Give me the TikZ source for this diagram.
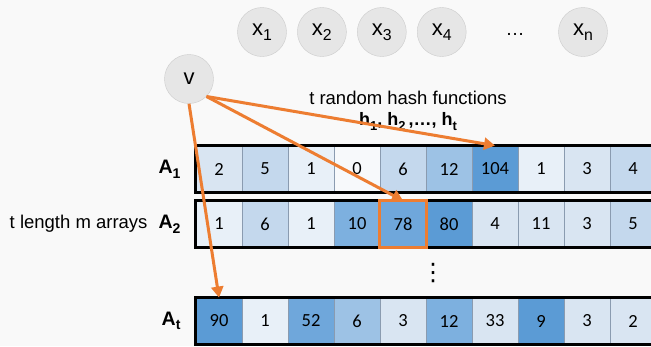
\documentclass[tikz,border=0pt]{standalone}
\usepackage{fontspec}
\setmainfont{Liberation Sans}
\newfontfamily\cellfont{Carlito}
\newfontfamily\symfont{DejaVu Sans}
\usetikzlibrary{arrows.meta,positioning}

\definecolor{bgcol}{HTML}{F9F9F9}
\definecolor{circfill}{HTML}{E6E6E6}
\definecolor{circline}{HTML}{CCCCCC}
\definecolor{cellline}{HTML}{8A9BB0}
\definecolor{hashorange}{HTML}{ED7D31}
\definecolor{cwhite}{HTML}{F7F9FB}
\definecolor{cpale}{HTML}{E8F0F8}
\definecolor{clight}{HTML}{D9E5F2}
\definecolor{csoft}{HTML}{C4D8ED}
\definecolor{cmid}{HTML}{9DC2E5}
\definecolor{cdeep}{HTML}{7DB0DF}
\definecolor{cdeeper}{HTML}{6FA7DB}
\definecolor{cdark}{HTML}{5B9BD5}

\newcommand{\lowidx}[1]{\raisebox{-0.45ex}{\scalebox{0.72}{#1}}}

\begin{document}
\begin{tikzpicture}[x=1pt, y=-1pt,
    item/.style={circle, draw=circline, fill=circfill, minimum size=49pt, inner sep=0pt, font=\fontsize{22}{22}\selectfont},
    cell/.style={draw=cellline, line width=0.8pt, minimum width=46pt, minimum height=46pt, inner sep=0pt, font=\cellfont\fontsize{18.5}{18.5}\selectfont},
    rowlabel/.style={anchor=east, font=\bfseries\fontsize{19.5}{19.5}\selectfont},
    hash/.style={draw=hashorange, line width=3pt, -{Triangle[length=11pt,width=12pt]}}]
    \useasboundingbox (0,0) rectangle (651,346);
    \fill[bgcol] (0,0) rectangle (651,346);
    \clip (0,0) rectangle (651,346);

    % elements
    \node[item] (x1) at (262,32) {x\lowidx{1}};
    \node[item, right=10.5pt of x1] (x2) {x\lowidx{2}};
    \node[item, right=10.5pt of x2] (x3) {x\lowidx{3}};
    \node[item, right=10.5pt of x3] (x4) {x\lowidx{4}};
    \node[font=\fontsize{19}{19}\selectfont] (dots) at (515,34) {…};
    \node[item] (xn) at (583,32) {x\lowidx{n}};
    \node[item] (v) at (189,79) {v};

    \node[font=\fontsize{18.5}{18.5}\selectfont] (hashtxt) at (408,98) {t random hash functions};
    \node[below=1pt of hashtxt, font=\bfseries\fontsize{18}{18}\selectfont] (hashlist) {h\lowidx{1}, h\lowidx{2}\,,…, h\lowidx{t}};

    % arrays
    \foreach \val/\col [count=\i] in {2/clight, 5/csoft, 1/cpale, 0/cwhite, 6/csoft, 12/cmid, 104/cdark, 1/cpale, 3/clight, 4/csoft}
        \node[cell, fill=\col] (a1-\i) at ({173+46*\i},169) {\val};
    \foreach \val/\col [count=\i] in {1/cpale, 6/csoft, 1/cpale, 10/cdeep, 78/cdeeper, 80/cdark, 4/clight, 11/clight, 3/clight, 5/csoft}
        \node[cell, fill=\col] (a2-\i) at ({173+46*\i},224) {\val};
    \foreach \val/\col [count=\i] in {90/cdark, 1/cpale, 52/cdeeper, 6/cmid, 3/clight, 12/cdeep, 33/clight, 9/cdark, 3/clight, 2/clight}
        \node[cell, fill=\col] (at-\i) at ({173+46*\i},321) {\val};
    \foreach \r in {a1,a2,at}
        \draw[line width=2.5pt] (\r-1.north west) rectangle (\r-10.south east);

    \node[rowlabel] (la1) at (184,169) {A\lowidx{1}};
    \node[rowlabel] (la2) at (184,224) {A\lowidx{2}};
    \node[rowlabel] (lat) at (184,321) {A\lowidx{t}};
    \node[anchor=east, font=\fontsize{18.5}{18.5}\selectfont, left=4pt of la2] (tlen) {t length m arrays};
    \node[font=\symfont\fontsize{24}{24}\selectfont] (vdots) at (433,273) {⋮};

    % hashing
    \draw[hashorange, line width=3pt] (a2-5.north west) rectangle (a2-5.south east);
    \draw[hash] (v.south east) -- (a1-7.north);
    \draw[hash] (v.south east) -- (a2-5.north);
    \draw[hash] (v.south) -- (at-1.north);
\end{tikzpicture}
\end{document}
